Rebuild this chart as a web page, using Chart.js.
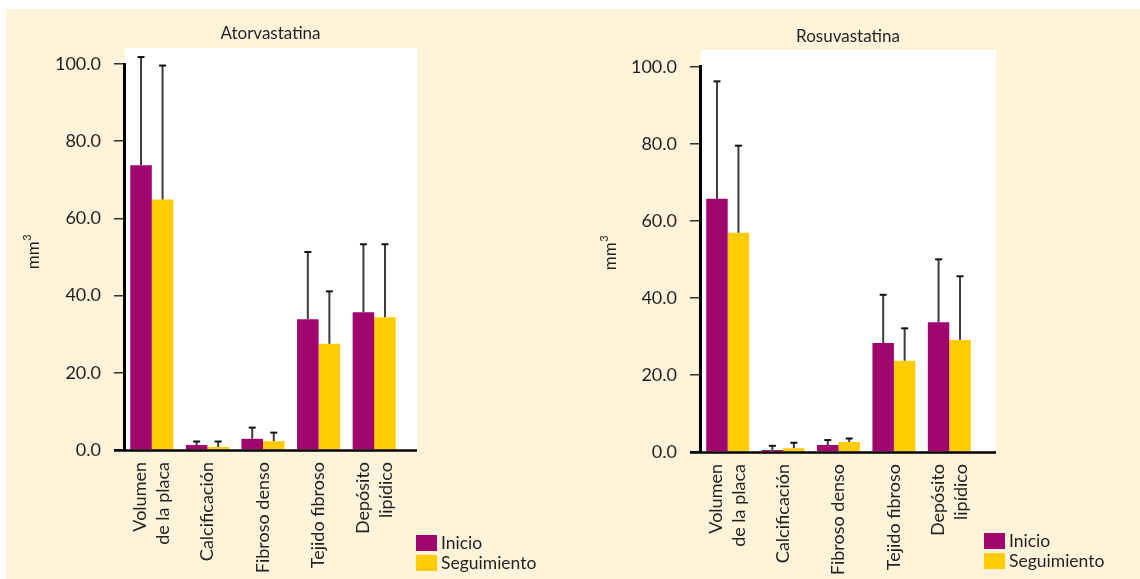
<!DOCTYPE html>
<html>
<head>
<meta charset="utf-8">
<script src="https://cdn.jsdelivr.net/npm/chart.js@4.4.1/dist/chart.umd.min.js"></script>
<style>
  html, body { margin: 0; padding: 0; background: #ffffff; }
  #panel { position: absolute; left: 6px; top: 9px; width: 1134px; height: 570px; background: #FFF4DA; }
  canvas { position: absolute; top: 0; }
</style>
</head>
<body>
<div id="panel"></div>
<canvas id="atorva" width="570" height="579" style="left:0px"></canvas>
<canvas id="rosuva" width="570" height="579" style="left:570px"></canvas>
<script>
// Plaque components (mm³), mean with one standard deviation drawn upward
const categories = [['Volumen', 'de la placa'], ['Calcificación'], ['Fibroso denso'], ['Tejido fibroso'], ['Depósito', 'lipídico']];
const yTickValues = [0, 20, 40, 60, 80, 100];
const seriesNames = ['Inicio', 'Seguimiento'];

const atorvaInicio      = [73.8, 1.3, 2.9, 33.9, 35.7];
const atorvaInicioSD    = [28.0, 0.9, 2.9, 17.4, 17.6];
const atorvaSeguim      = [64.9, 0.8, 2.3, 27.5, 34.4];
const atorvaSeguimSD    = [34.7, 1.4, 2.2, 13.6, 18.9];

const rosuvaInicio      = [65.7, 0.5, 1.8, 28.3, 33.7];
const rosuvaInicioSD    = [30.5, 1.1, 1.3, 12.5, 16.3];
const rosuvaSeguim      = [56.9, 1.0, 2.6, 23.7, 29.1];
const rosuvaSeguimSD    = [22.6, 1.4, 0.9, 8.4, 16.5];

const FONT = 'Lato, "Noto Sans", sans-serif';
const INK = '#231f20';
const MAGENTA = '#A0066E';
const YELLOW = '#FFCC00';

// Draws the white plot panel, headings, category labels, x axis, error bars and legend
const framePlugin = {
  id: 'frame',
  beforeDraw(chart, args, o) {
    const { ctx, chartArea: a } = chart;
    ctx.save();
    ctx.fillStyle = '#ffffff';
    ctx.fillRect(a.left + 1, o.whiteTop, o.whiteRight - a.left - 1, a.bottom + 1 - o.whiteTop);
    // heading
    ctx.fillStyle = INK;
    ctx.font = '17px ' + FONT;
    ctx.textAlign = 'center';
    ctx.textBaseline = 'middle';
    ctx.fillText(o.title, (a.left + o.whiteRight) / 2, o.titleY);
    // unit label: "mm" with a raised "3"
    ctx.translate(o.unitX, o.unitY);
    ctx.rotate(-Math.PI / 2);
    ctx.font = '17px ' + FONT;
    ctx.textAlign = 'left';
    ctx.textBaseline = 'alphabetic';
    const mmW = ctx.measureText('mm').width;
    ctx.font = '11px ' + FONT;
    const supW = ctx.measureText('3').width;
    const x0 = -(mmW + supW) / 2;
    ctx.font = '17px ' + FONT;
    ctx.fillText('mm', x0, 6);
    ctx.font = '11px ' + FONT;
    ctx.fillText('3', x0 + mmW + 0.5, -2);
    ctx.restore();
  },
  afterDatasetsDraw(chart) {
    const { ctx } = chart;
    const y = chart.scales.y;
    ctx.save();
    chart.data.datasets.forEach((ds, i) => {
      const meta = chart.getDatasetMeta(i);
      meta.data.forEach((bar, j) => {
        const top = y.getPixelForValue(ds.data[j] + ds.sd[j]);
        ctx.strokeStyle = '#3c3c3c';
        ctx.lineWidth = 2;
        ctx.beginPath();
        ctx.moveTo(bar.x, bar.y);
        ctx.lineTo(bar.x, top);
        ctx.stroke();
        ctx.strokeStyle = '#111111';
        ctx.beginPath();
        ctx.moveTo(bar.x - 3.5, top);
        ctx.lineTo(bar.x + 3.5, top);
        ctx.stroke();
      });
    });
    ctx.restore();
  },
  afterDraw(chart, args, o) {
    const { ctx, chartArea: a } = chart;
    const x = chart.scales.x;
    ctx.save();
    // x axis line
    ctx.strokeStyle = '#000000';
    ctx.lineWidth = 2.5;
    ctx.beginPath();
    ctx.moveTo(a.left - 10, a.bottom + 0.5);
    ctx.lineTo(o.whiteRight, a.bottom + 0.5);
    ctx.stroke();
    // category labels, rotated to read upward
    ctx.fillStyle = INK;
    ctx.font = '18px ' + FONT;
    ctx.textAlign = 'right';
    ctx.textBaseline = 'middle';
    const lh = 23;
    chart.data.labels.forEach((lines, i) => {
      const cx = x.getPixelForValue(i);
      lines.forEach((line, k) => {
        const lx = cx + (k - (lines.length - 1) / 2) * lh;
        ctx.save();
        ctx.translate(lx, a.bottom + 12);
        ctx.rotate(-Math.PI / 2);
        ctx.fillText(line, 0, 0);
        ctx.restore();
      });
    });
    // legend
    ctx.textAlign = 'left';
    ctx.font = '17.5px ' + FONT;
    chart.data.datasets.forEach((ds, i) => {
      const by = o.legendY + i * 20;
      ctx.fillStyle = ds.backgroundColor;
      ctx.fillRect(o.legendX, by, 21, 16);
      ctx.fillStyle = INK;
      ctx.fillText(ds.label, o.legendX + 25, by + 8.5);
    });
    ctx.restore();
  }
};

function makeChart(id, inicio, inicioSD, seguim, seguimSD, frame) {
  new Chart(document.getElementById(id), {
    type: 'bar',
    data: {
      labels: categories,
      datasets: [
        { label: seriesNames[0], data: inicio, sd: inicioSD, backgroundColor: MAGENTA },
        { label: seriesNames[1], data: seguim, sd: seguimSD, backgroundColor: YELLOW }
      ]
    },
    options: {
      responsive: false,
      animation: false,
      devicePixelRatio: 1,
      layout: { padding: { left: 0, top: frame.top, right: frame.right, bottom: 0 } },
      datasets: { bar: { categoryPercentage: 0.775, barPercentage: 1.0, borderWidth: 0 } },
      plugins: {
        legend: { display: false },
        tooltip: { enabled: false },
        frame: frame
      },
      scales: {
        x: {
          grid: { display: false },
          border: { display: false },
          ticks: { display: false },
          afterFit(scale) { scale.height = 579 - frame.bottom; }
        },
        y: {
          min: 0,
          max: 100,
          afterBuildTicks(scale) { scale.ticks = yTickValues.map(v => ({ value: v })); },
          afterFit(scale) { scale.width = frame.left; },
          grid: { drawOnChartArea: false, tickLength: 10, color: '#333333', lineWidth: 1.5 },
          border: { display: true, color: '#000000', width: 3 },
          ticks: {
            padding: 13,
            color: INK,
            font: { family: FONT, size: 18 },
            callback: v => Number(v).toFixed(1)
          }
        }
      }
    },
    plugins: [framePlugin]
  });
}

makeChart('atorva', atorvaInicio, atorvaInicioSD, atorvaSeguim, atorvaSeguimSD, {
  left: 124, top: 64, right: 168, bottom: 450,
  whiteTop: 48, whiteRight: 417, title: 'Atorvastatina', titleY: 34,
  unitX: 33, unitY: 252, legendX: 416, legendY: 535
});
makeChart('rosuva', rosuvaInicio, rosuvaInicioSD, rosuvaSeguim, rosuvaSeguimSD, {
  left: 130, top: 66.7, right: 163, bottom: 452,
  whiteTop: 50, whiteRight: 426, title: 'Rosuvastatina', titleY: 37,
  unitX: 40, unitY: 253, legendX: 414, legendY: 533
});
</script>
</body>
</html>
